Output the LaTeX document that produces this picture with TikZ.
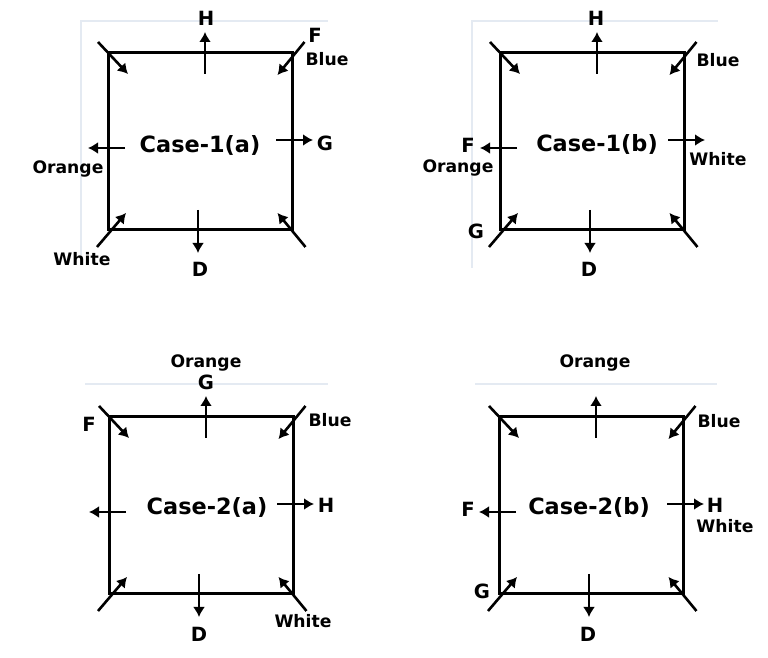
\documentclass[tikz,border=0pt]{standalone}
\usepackage{fontspec}
\setmainfont{DejaVu Sans}
\usepackage{xcolor}
\usetikzlibrary{arrows.meta}

\definecolor{faint}{RGB}{228,234,242}
\tikzset{
  frameline/.style={black, line width=1.5pt},
  arrowline/.style={black, line width=1.3pt, -{Latex[length=5pt,width=6pt]}},
  letterlabel/.style={font=\bfseries\fontsize{9.8}{11}\selectfont, inner sep=0pt, anchor=base},
  wordlabel/.style={font=\bfseries\fontsize{8.6}{10}\selectfont, inner sep=0pt, anchor=base},
  casetitle/.style={font=\bfseries\fontsize{11.2}{14}\selectfont, inner sep=0pt, anchor=base},
  faintline/.style={draw=faint, line width=0.7pt}
}

\begin{document}
\begin{tikzpicture}[x=0.5pt, y=-0.5pt]
  \useasboundingbox (0,0) rectangle (768,658);
  % faint screenshot edges
  \draw[faintline] (81,255)--(81,21)--(328,21);
  \draw[faintline] (472,268)--(472,21)--(718,21);
  \draw[faintline] (85,384)--(328,384);
  \draw[faintline] (475,384)--(717,384);
  % the four frames
  \foreach \p/\ox/\oy in {a/108/53, b/500/53, c/109/417, d/499/417}{
    \begin{scope}[shift={(\ox,\oy)}]
      \coordinate (\p-tl) at (0,0);
      \coordinate (\p-tr) at (184.5,0);
      \coordinate (\p-br) at (184.5,177);
      \coordinate (\p-bl) at (0,177);
      \coordinate (\p-n0) at (97,21);    \coordinate (\p-n1) at (97,-21);
      \coordinate (\p-s0) at (90,157);   \coordinate (\p-s1) at (90,200);
      \coordinate (\p-w0) at (17,95);    \coordinate (\p-w1) at (-20,95);
      \coordinate (\p-e0) at (168,87);   \coordinate (\p-e1) at (205,87);
      \draw[frameline] (\p-tl)--(\p-tr)--(\p-br)--(\p-bl)--cycle;
      \draw[arrowline] ([shift={(-10,-11)}]\p-tl)--([shift={(20,21)}]\p-tl);
      \draw[arrowline] ([shift={(12,-11)}]\p-tr)--([shift={(-15,22)}]\p-tr);
      \draw[arrowline] ([shift={(-11,17)}]\p-bl)--([shift={(18,-17)}]\p-bl);
      \draw[arrowline] ([shift={(13,17)}]\p-br)--([shift={(-15,-17)}]\p-br);
      \draw[arrowline] (\p-n0)--(\p-n1);
      \draw[arrowline] (\p-s0)--(\p-s1);
      \draw[arrowline] (\p-w0)--(\p-w1);
      \draw[arrowline] (\p-e0)--(\p-e1);
    \end{scope}
  }
  % Case-1(a)
  \node[casetitle] (a-title) at (200,153) {Case-1(a)};
  \node[letterlabel] (a-h) at (206,26) {H};
  \node[letterlabel] (a-f) at (315,43) {F};
  \node[wordlabel] (a-blue) at (327,66) {Blue};
  \node[wordlabel] (a-orange) at (68,174) {Orange};
  \node[letterlabel] (a-g) at (325,151) {G};
  \node[wordlabel] (a-white) at (82,266) {White};
  \node[letterlabel] (a-d) at (200,277) {D};
  % Case-1(b)
  \node[casetitle] (b-title) at (597,152) {Case-1(b)};
  \node[letterlabel] (b-h) at (596,26) {H};
  \node[wordlabel] (b-blue) at (718,67) {Blue};
  \node[letterlabel] (b-f) at (468,153) {F};
  \node[wordlabel] (b-orange) at (458,173) {Orange};
  \node[wordlabel] (b-white) at (718,166) {White};
  \node[letterlabel] (b-g) at (476,239) {G};
  \node[letterlabel] (b-d) at (589,277) {D};
  % Case-2(a)
  \node[casetitle] (c-title) at (207,515) {Case-2(a)};
  \node[wordlabel] (c-orange) at (206,368) {Orange};
  \node[letterlabel] (c-g) at (206,390) {G};
  \node[letterlabel] (c-f) at (89,432) {F};
  \node[wordlabel] (c-blue) at (330,427) {Blue};
  \node[letterlabel] (c-h) at (326,513) {H};
  \node[wordlabel] (c-white) at (303,628) {White};
  \node[letterlabel] (c-d) at (199,642) {D};
  % Case-2(b)
  \node[casetitle] (d-title) at (589,515) {Case-2(b)};
  \node[wordlabel] (d-orange) at (595,368) {Orange};
  \node[wordlabel] (d-blue) at (719,428) {Blue};
  \node[letterlabel] (d-f) at (468,517) {F};
  \node[letterlabel] (d-h) at (715,513) {H};
  \node[wordlabel] (d-white) at (725,533) {White};
  \node[letterlabel] (d-g) at (482,599) {G};
  \node[letterlabel] (d-d) at (588,642) {D};
\end{tikzpicture}
\end{document}
